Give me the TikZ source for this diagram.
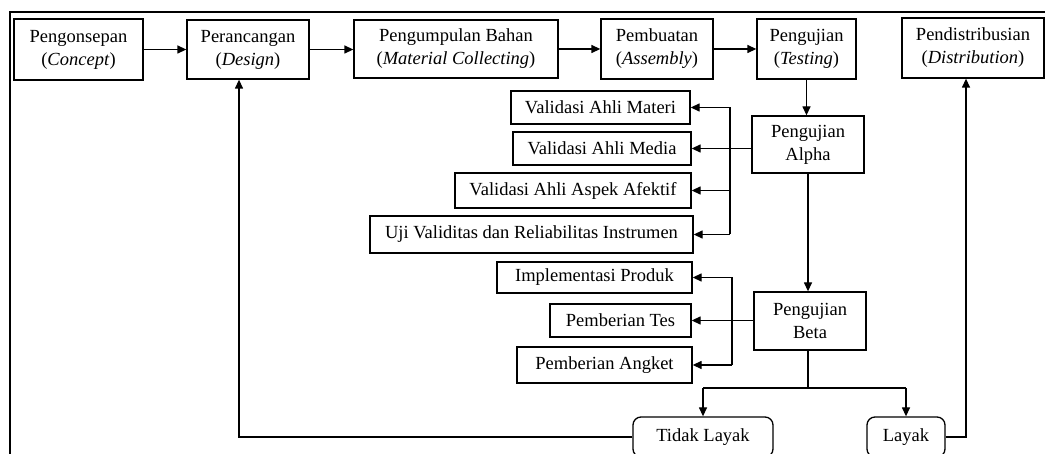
\documentclass[tikz,border=0pt]{standalone}
\usepackage{fontspec}
\setmainfont{Liberation Serif}
\usetikzlibrary{arrows.meta}
\begin{document}
\begin{tikzpicture}[x=1pt,y=-1pt,line width=1.3pt,
  box/.style={draw,line width=1.3pt,inner sep=0pt,align=center,font=\fontsize{18.5}{23}\selectfont},
  rbox/.style={box,rounded corners=8pt},
  arr/.style={-{Triangle[length=9pt,width=8pt]},line width=1.3pt}]
\useasboundingbox (0,0) rectangle (1045,454);
\clip (0,0) rectangle (1045,454);
\coordinate (fbl) at (10,470);
\coordinate (ftl) at (10,12);
\coordinate (ftr) at (1060,12);
\draw (fbl) -- (ftl) -- (ftr);
% top row
\node[box,minimum width=129pt,minimum height=61pt] (concept) at (78.5,49.5) {Pengonsepan\\(\textit{Concept})};
\node[box,minimum width=122pt,minimum height=59pt] (design) at (248,49.5) {Perancangan\\(\textit{Design})};
\node[box,minimum width=204pt,minimum height=58pt] (collect) at (456,49) {Pengumpulan Bahan\\(\textit{Material Collecting})};
\node[box,minimum width=112pt,minimum height=60pt] (assembly) at (657,49) {Pembuatan\\(\textit{Assembly})};
\node[box,minimum width=99pt,minimum height=60pt] (testing) at (806.5,49) {Pengujian\\(\textit{Testing})};
\node[box,minimum width=142pt,minimum height=60pt] (dist) at (973,48) {Pendistribusian\\(\textit{Distribution})};
% alpha
\node[box,minimum width=112pt,minimum height=57pt] (alpha) at (808,144.5) {Pengujian\\Alpha};
\node[box,minimum width=179pt,minimum height=33pt] (materi) at (600.5,107.5) {Validasi Ahli Materi};
\node[box,minimum width=178pt,minimum height=33pt] (media) at (602,148.5) {Validasi Ahli Media};
\node[box,minimum width=236pt,minimum height=35pt] (afektif) at (573,190.5) {Validasi Ahli Aspek Afektif};
\node[box,minimum width=323pt,minimum height=37pt] (uji) at (531.5,234.5) {Uji Validitas dan Reliabilitas Instrumen};
% beta
\node[box,minimum width=112pt,minimum height=58pt] (beta) at (810,321) {Pengujian\\Beta};
\node[box,minimum width=195pt,minimum height=31pt] (impl) at (594.5,277.5) {Implementasi Produk};
\node[box,minimum width=141pt,minimum height=33pt] (tes) at (620.5,320.5) {Pemberian Tes};
\node[box,minimum width=175pt,minimum height=36pt] (angket) at (604.5,365) {Pemberian Angket};
% decisions
\node[rbox,minimum width=140pt,minimum height=40pt] (tidak) at (703,437) {Tidak Layak};
\node[rbox,minimum width=78pt,minimum height=40pt] (layak) at (906,437) {Layak};
% top row arrows
\draw[arr] (concept.east) -- (concept.east -| design.west);
\draw[arr] (design.east) -- (design.east -| collect.west);
\draw[arr] (collect.east) -- (collect.east -| assembly.west);
\draw[arr] (assembly.east) -- (assembly.east -| testing.west);
\draw[arr] (testing.south) -- (testing.south |- alpha.north);
\draw[arr] (alpha.south) -- (alpha.south |- beta.north);
% alpha bus
\coordinate (ab) at (730,0);
\draw (ab |- materi.east) -- (ab |- uji.east);
\draw[arr] (ab |- materi.east) -- (materi.east);
\draw[arr] (alpha.west |- media.east) -- (media.east);
\draw[arr] (ab |- afektif.east) -- (afektif.east);
\draw[arr] (ab |- uji.east) -- (uji.east);
% beta bus
\coordinate (bb) at (732,0);
\draw (bb |- impl.east) -- (bb |- angket.east);
\draw[arr] (bb |- impl.east) -- (impl.east);
\draw[arr] (beta.west |- tes.east) -- (tes.east);
\draw[arr] (bb |- angket.east) -- (angket.east);
% split
\coordinate (split) at (808,388);
\draw (split |- beta.south) -- (split);
\draw (tidak.north |- split) -- (layak.north |- split);
\draw[arr] (tidak.north |- split) -- (tidak.north);
\draw[arr] (layak.north |- split) -- (layak.north);
% feedback
\coordinate (tl) at (239,437);
\draw[arr] (tidak.west) -- (tl) -- (tl |- design.south);
\coordinate (lr) at (966,437);
\draw[arr] (layak.east) -- (lr) -- (lr |- dist.south);
\end{tikzpicture}
\end{document}
